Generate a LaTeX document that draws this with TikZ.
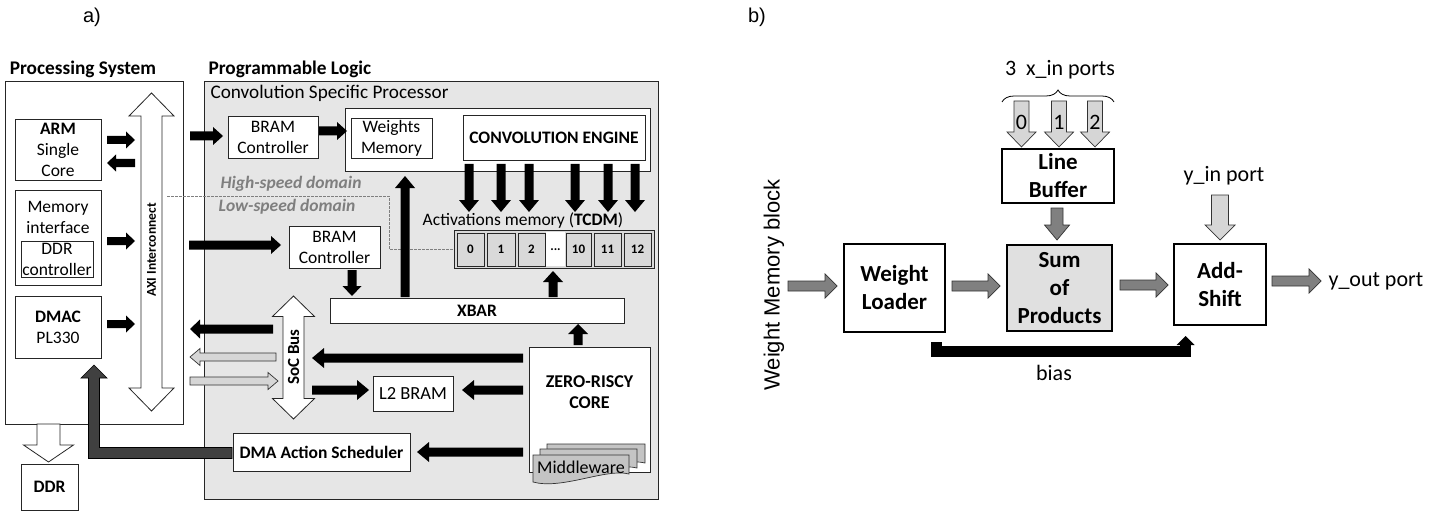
\documentclass[tikz,border=0pt]{standalone}
\usepackage{fontspec}
\setmainfont{Carlito}
\newfontfamily\arialf{Liberation Sans}
\usetikzlibrary{calc,decorations.pathreplacing,arrows.meta}
\definecolor{plgray}{HTML}{E6E6E6}
\definecolor{cellgray}{HTML}{D9D9D9}
\definecolor{lgray}{HTML}{D6D6D6}
\definecolor{mgray}{HTML}{808080}
\definecolor{dgray}{HTML}{404040}
\definecolor{domgray}{HTML}{7F7F7F}
\definecolor{mwgray}{HTML}{C4C4C4}
\definecolor{sopgray}{HTML}{E0E0E0}

% block arrow: style, from, to, shaft half width, head half width, head length
\newcommand\fatarrow[6]{%
  \coordinate (faA) at #2;
  \coordinate (faB) at #3;
  \coordinate (faH) at ($(faB)!#6pt!(faA)$);
  \path[#1] ($(faA)!#4pt!90:(faB)$) -- ($(faH)!#4pt!90:(faB)$) -- ($(faH)!#5pt!90:(faB)$) -- (faB)
    -- ($(faH)!#5pt!-90:(faB)$) -- ($(faH)!#4pt!-90:(faB)$) -- ($(faA)!#4pt!-90:(faB)$) -- cycle;}
% double block arrow
\newcommand\fatdarrow[6]{%
  \coordinate (faA) at #2;
  \coordinate (faB) at #3;
  \coordinate (faH) at ($(faB)!#6pt!(faA)$);
  \coordinate (faG) at ($(faA)!#6pt!(faB)$);
  \path[#1] (faA) -- ($(faG)!#5pt!90:(faB)$) -- ($(faG)!#4pt!90:(faB)$) -- ($(faH)!#4pt!90:(faB)$)
    -- ($(faH)!#5pt!90:(faB)$) -- (faB) -- ($(faH)!#5pt!-90:(faB)$) -- ($(faH)!#4pt!-90:(faB)$)
    -- ($(faG)!#4pt!-90:(faB)$) -- ($(faG)!#5pt!-90:(faB)$) -- cycle;}
% box node from corners: [style]{name}{x1}{y1}{x2}{y2} then {text}
\newcommand\mkbox[6][]{\node[box,#1,minimum width={(#5-#3)*1pt},minimum height={(#6-#4)*1pt}] (#2) at ({(#3+#5)/2},{(#4+#6)/2})}

\begin{document}
\begin{tikzpicture}[x=1pt,y=-1pt,
  box/.style={draw=black!85,line width=0.8pt,fill=white,inner sep=0pt,outer sep=0pt,align=center},
  bbox/.style={draw=black,line width=1.3pt,fill=white,inner sep=0pt,outer sep=0pt,align=center},
  t17/.style={font=\fontsize{17.5}{21}\selectfont},
  b17/.style={font=\bfseries\fontsize{17.5}{21}\selectfont},
  b19/.style={font=\bfseries\fontsize{19.3}{22}\selectfont},
  t22/.style={font=\fontsize{22}{28}\selectfont},
  b22/.style={font=\bfseries\fontsize{23}{28}\selectfont},
  cellf/.style={font=\bfseries\fontsize{13}{14}\selectfont},
  blk/.style={fill=black},
  wha/.style={fill=white,draw=black!85,line width=0.8pt},
  lga/.style={fill=lgray,draw=black!80,line width=0.7pt},
  mga/.style={fill=mgray,draw=black!80,line width=0.7pt},
  dka/.style={fill=dgray,draw=black,line width=0.7pt},
  mw/.style={fill=mwgray,draw=black!80,line width=0.7pt},
  dom/.style={font=\bfseries\itshape\fontsize{17.5}{20}\selectfont,text=domgray}
]
\fill[white] (0,0) rectangle (1443,516);
\useasboundingbox (0,0) rectangle (1443,516);

% ---------------- panel labels
\node[font=\arialf\fontsize{20}{24}\selectfont] (la) at (92,17) {a)};
\node[font=\arialf\fontsize{20}{24}\selectfont] (lb) at (757,17) {b)};

% ---------------- Processing system
\mkbox{ps}{5}{81}{183}{424}{};
\node[b19] (pslab) at (83,69) {Processing System};
\mkbox[t17]{arm}{15}{119}{101}{180}{\textbf{ARM}\\Single\\Core};
\mkbox{memif}{15}{190}{101}{285}{};
\node[t17,align=center] (memtxt) at (58,217.5) {Memory\\interface};
\mkbox[t17,line width=0.6pt]{ddrc}{21}{241}{93}{277}{DDR\\controller};
\mkbox[t17]{dmac}{15}{296}{101}{358}{\textbf{DMAC}\\PL330};

\fatarrow{wha}{(48.5,424)}{(48.5,462)}{11.5}{25}{17}
\mkbox[b17]{ddr}{21}{464}{78}{510}{DDR};

\fatdarrow{wha}{(151.5,93)}{(151.5,411)}{10.5}{22.5}{23}
\node[rotate=90,font=\bfseries\fontsize{13.5}{16}\selectfont] (axi) at (151.5,250) {AXI Interconnect};

\fatarrow{blk}{(107,140)}{(135,140)}{4}{8.5}{9}
\fatarrow{blk}{(135,163)}{(107,163)}{4}{8.5}{9}
\fatarrow{blk}{(107,241)}{(135,241)}{4}{8.5}{9}
\fatarrow{blk}{(107,324)}{(135,324)}{4}{8.5}{9}

% ---------------- Programmable logic
\mkbox[fill=plgray]{pl}{204}{81}{658}{499}{};
\node[b19,anchor=west] (pllab) at (205,69) {Programmable Logic};
\node[font=\fontsize{19.2}{22}\selectfont,anchor=west] (csp) at (207,93) {Convolution Specific Processor};
\mkbox{inner}{345}{108}{650}{171}{};
\mkbox[t17]{bram1}{228}{116}{318}{158}{BRAM\\Controller};
\mkbox[t17]{wmem}{351}{118}{432}{158}{Weights\\Memory};
\mkbox[b17]{engine}{463}{115}{645}{160}{CONVOLUTION ENGINE};

\fatarrow{blk}{(190,136)}{(223,136)}{4.5}{9}{10}
\fatarrow{blk}{(319,131)}{(347,131)}{4.5}{9}{10}

\foreach \xx in {469,501,529,575,608,635}{
  \fatarrow{blk}{(\xx,164)}{(\xx,212)}{4.5}{10}{12}
}

% domains
\draw[domgray,line width=0.6pt,dash pattern=on 2.5pt off 1.5pt] (167,196) -- (389,196) -- (389,249) -- (454,249);
\node[dom] (hs) at (291,184) {High-speed domain};
\node[dom] (ls) at (287,207) {Low-speed domain};

% TCDM
\node[t17] (tcdmlab) at (523,221) {Activations memory (\textbf{TCDM})};
\mkbox[fill=cellgray]{tcdm}{454}{230}{654}{268}{};
\fill[white] (546,232) rectangle (565,266);
\node[cellf] (dots) at (555.5,250) {...};
\mkbox[fill=cellgray,cellf]{c0}{457}{233}{484}{266}{0};
\mkbox[fill=cellgray,cellf]{c1}{487}{233}{515}{266}{1};
\mkbox[fill=cellgray,cellf]{c2}{518}{233}{545}{266}{2};
\mkbox[fill=cellgray,cellf]{c10}{566}{233}{591}{266}{10};
\mkbox[fill=cellgray,cellf]{c11}{594}{233}{621}{266}{11};
\mkbox[fill=cellgray,cellf]{c12}{624}{233}{651}{266}{12};

\mkbox[t17]{bram2}{289}{226}{380}{268}{BRAM\\Controller};
\fatarrow{blk}{(189,245)}{(281,245)}{4.5}{9}{10}
\mkbox[b17]{xbar}{330}{298}{624}{323}{XBAR};
\fatarrow{blk}{(352,270)}{(352,296)}{4.5}{9.5}{10}
\fatarrow{blk}{(405,297)}{(405,176)}{4.5}{10}{12}
\fatarrow{blk}{(553,297)}{(553,271)}{4.5}{10}{11}

% SoC bus
\fatdarrow{wha}{(293.5,296)}{(293.5,419)}{10.5}{21}{20.5}
\node[rotate=90,font=\bfseries\fontsize{17}{20}\selectfont] (soc) at (293.5,357) {SoC Bus};
\fatarrow{blk}{(273,329)}{(190,329)}{4.5}{9.5}{10}
\fatarrow{lga}{(276,357)}{(190,357)}{4}{8.5}{10}
\fatarrow{lga}{(190,381)}{(278,381)}{4}{8.5}{10}

% Zero-riscy
\mkbox{zr}{529}{347}{650}{472}{};
\node[font=\bfseries\fontsize{18}{21}\selectfont,align=center] (zrtxt) at (589.5,392.5) {ZERO-RISCY\\CORE};
\fatarrow{blk}{(578,345)}{(578,324)}{4.5}{10}{10}
\path[mw] (547,444) -- (645,444) -- (645,463) .. controls (622,457) and (578,478) .. (547,471) -- cycle;
\path[mw] (540,449) -- (637,449) -- (637,468) .. controls (614,462) and (570,483) .. (540,476) -- cycle;
\path[mw] (533,455) -- (629,455) -- (629,474) .. controls (606,468) and (562,490) .. (533,482) -- cycle;
\node[font=\fontsize{18}{21}\selectfont] (mware) at (581,467) {Middleware};

\mkbox[font=\fontsize{18.5}{21}\selectfont]{l2}{373}{376}{453}{411}{L2 BRAM};
\mkbox[b17]{dma}{233}{433}{410}{471}{DMA Action Scheduler};
\fatarrow{blk}{(523,358)}{(312,358)}{4.5}{10}{12}
\fatarrow{blk}{(312,390)}{(369,390)}{4.5}{10}{12}
\fatarrow{blk}{(523,390)}{(462,390)}{4.5}{10}{12}
\fatarrow{blk}{(523,452)}{(417,452)}{4.5}{10}{12}

% DMA scheduler -> DMAC
\path[dka] (232,447.5) -- (99.5,447.5) -- (99.5,378) -- (107,378) -- (94,365) -- (81,378) -- (88.5,378)
  -- (88.5,458.5) -- (232,458.5) -- cycle;

% ---------------- panel b
\node[font=\arialf\fontsize{22}{26}\selectfont,rotate=90] (wmb) at (774,285) {Weight Memory block};
\mkbox[bbox,b22]{wl}{844}{244}{945}{332}{Weight\\Loader};
\mkbox[bbox,b22,fill=sopgray]{sop}{1007}{245}{1112}{331}{Sum\\of\\Products};
\mkbox[bbox,b22]{as}{1174}{244}{1266}{325}{Add-\\Shift};
\mkbox[bbox,b22]{lbuf}{1002}{149}{1114}{203}{Line\\Buffer};

\fatarrow{mga}{(788,286)}{(837,286)}{5}{12}{12}
\fatarrow{mga}{(952,286)}{(1000,286)}{5}{12}{12}
\fatarrow{mga}{(1120,285)}{(1168,285)}{5}{12}{12}
\fatarrow{mga}{(1272,281)}{(1321,281)}{5}{12}{12}
\fatarrow{mga}{(1057,208)}{(1057,240)}{6}{12.5}{15}

\fatarrow{lga}{(1220,195)}{(1220,240)}{8.5}{15}{15}
\foreach \xx/\dd in {1021.5/0,1059/1,1095/2}{
  \fatarrow{lga}{(\xx,101)}{(\xx,147)}{7.5}{14.5}{15}
  \node[t22] at (\xx,122) {\dd};
}
\draw[decorate,decoration={brace,amplitude=12pt},line width=0.8pt] (1002,102) -- (1114,102);
\node[t22] (xin) at (1060,70) {3\ \ x\_in ports};
\node[t22] (yin) at (1224,176) {y\_in port};
\node[t22,anchor=west] (yout) at (1325,281) {y\_out port};

% bias
\draw[line width=11pt] (936,342) |- (1185.5,351.5) -- (1185.5,344);
\fill (1176.5,345) -- (1185.5,336) -- (1194.5,345) -- cycle;
\node[t22] (bias) at (1054,373) {bias};
\end{tikzpicture}
\end{document}
